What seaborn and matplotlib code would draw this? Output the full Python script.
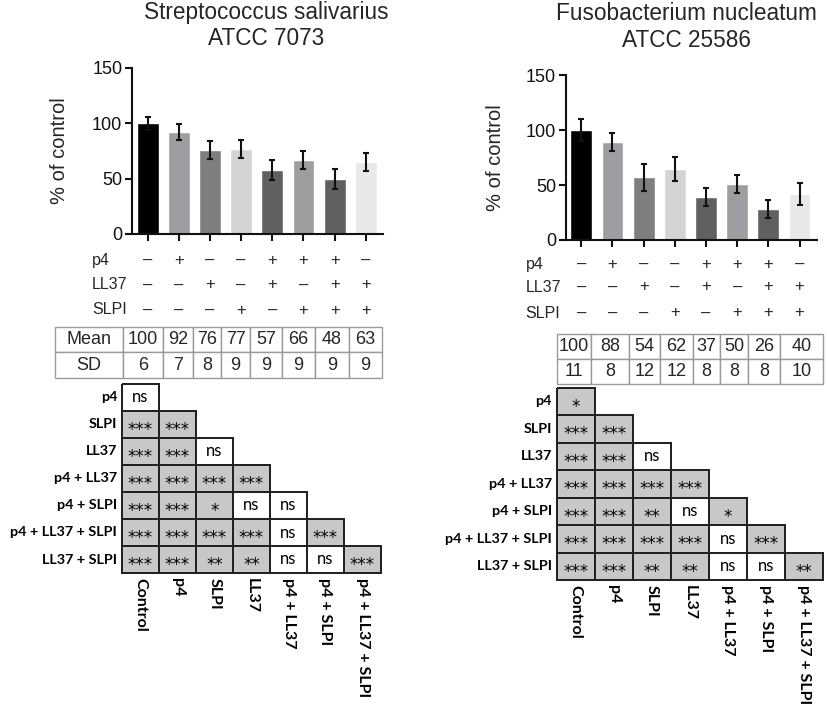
import numpy as np
import pandas as pd
import matplotlib
matplotlib.use("Agg")
import matplotlib.pyplot as plt
import matplotlib.transforms as mtransforms
from matplotlib.colors import ListedColormap
import seaborn as sns

# ---------------- data ----------------
groups = ['Control', 'p4', 'LL37', 'SLPI', 'p4 + LL37', 'p4 + SLPI',
          'p4 + LL37 + SLPI', 'LL37 + SLPI']
p4_signs = ['–', '+', '–', '–', '+', '+', '+', '–']
ll37_signs = ['–', '–', '+', '–', '+', '–', '+', '+']
slpi_signs = ['–', '–', '–', '+', '–', '+', '+', '+']
bar_colors = ['#000000', '#9e9ea2', '#7f7f7f', '#d4d4d4',
              '#606060', '#9e9ea2', '#606060', '#e8e8e8']

sal_title = ['Streptococcus salivarius', 'ATCC 7073']
sal_bar = [100, 92, 76, 77, 58, 67, 50, 65]
sal_err = [6, 7, 8, 8, 9, 8, 9, 8]
sal_mean = [100, 92, 76, 77, 57, 66, 48, 63]
sal_sd = [6, 7, 8, 9, 9, 9, 9, 9]

fus_title = ['Fusobacterium nucleatum', 'ATCC 25586']
fus_bar = [100, 89, 57, 65, 39, 51, 28, 42]
fus_err = [10, 8, 12, 11, 8, 8, 8, 10]
fus_mean = [100, 88, 54, 62, 37, 50, 26, 40]
fus_sd = [11, 8, 12, 12, 8, 8, 8, 10]

mat_cols = ['Control', 'p4', 'SLPI', 'LL37', 'p4 + LL37', 'p4 + SLPI',
            'p4 + LL37 + SLPI']
mat_rows = ['p4', 'SLPI', 'LL37', 'p4 + LL37', 'p4 + SLPI',
            'p4 + LL37 + SLPI', 'LL37 + SLPI']
sal_sig = [
    ['ns'],
    ['***', '***'],
    ['***', '***', 'ns'],
    ['***', '***', '***', '***'],
    ['***', '***', '*', 'ns', 'ns'],
    ['***', '***', '***', '***', 'ns', '***'],
    ['***', '***', '**', '**', 'ns', 'ns', '***'],
]
fus_sig = [
    ['*'],
    ['***', '***'],
    ['***', '***', 'ns'],
    ['***', '***', '***', '***'],
    ['***', '***', '**', 'ns', '*'],
    ['***', '***', '***', '***', 'ns', '***'],
    ['***', '***', '**', '**', 'ns', 'ns', '**'],
]

# ---------------- style ----------------
sns.set_theme(style="ticks")
plt.rcParams['font.family'] = ['Liberation Sans', 'DejaVu Sans']
LABEL_FONT = ['Lato', 'DejaVu Sans']

W, H = 827, 720
fig = plt.figure(figsize=(W / 100, H / 100), dpi=100)


def fx(px):
    return px / W


def fy(py):
    return 1 - py / H


def draw_panel(cfg):
    # ---- title ----
    for line, base in zip(cfg['title'], cfg['title_base']):
        fig.text(fx(cfg['title_x']), fy(base), line, ha='center',
                 va='baseline', fontsize=16.3)

    # ---- bar chart ----
    x0, x1, ytop, ybot = cfg['bar_box']
    ax = fig.add_axes([fx(x0), fy(ybot), (x1 - x0) / W, (ybot - ytop) / H])
    df = pd.DataFrame({'group': groups, 'value': cfg['bar']})
    sns.barplot(data=df, x='group', y='value', hue='group', order=groups,
                hue_order=groups, palette=bar_colors, saturation=1,
                width=0.7, errorbar=None, legend=False, ax=ax)
    ax.errorbar(np.arange(len(groups)), cfg['bar'], yerr=cfg['err'],
                fmt='none', ecolor='#111111', elinewidth=1.5,
                capsize=2.5, capthick=1.5)
    ax.set_ylim(0, 150)
    ax.set_yticks([0, 50, 100, 150])
    ax.set_xlim(-0.5, 7.55)
    ax.set_xticks(range(len(groups)))
    ax.set_xticklabels([])
    ax.set_xlabel('')
    ax.set_ylabel('% of control', fontsize=14.5)
    ax.yaxis.set_label_coords(cfg['ylab_x'], 0.5)
    ax.tick_params(axis='y', labelsize=13, length=5, width=1.5, pad=2,
                   colors='#111111')
    ax.tick_params(axis='x', length=5, width=1.5, colors='#111111')
    sns.despine(ax=ax)
    for s in ['left', 'bottom']:
        ax.spines[s].set_linewidth(1.5)
        ax.spines[s].set_color('#111111')

    # ---- +/- rows ----
    trans = mtransforms.blended_transform_factory(ax.transData,
                                                  fig.transFigure)
    for name, signs, yy in zip(['p4', 'LL37', 'SLPI'],
                               [p4_signs, ll37_signs, slpi_signs],
                               cfg['sign_y']):
        fig.text(fx(cfg['sign_label_x']), fy(yy), name, ha='left',
                 va='center', fontsize=11.5)
        for i, s in enumerate(signs):
            ax.text(i, fy(yy), s, transform=trans, ha='center',
                    va='center', fontsize=12)

    # ---- mean / SD table ----
    tx0, tx1, ty0, ty1 = cfg['tab_box']
    tax = fig.add_axes([fx(tx0), fy(ty1), (tx1 - tx0) / W, (ty1 - ty0) / H])
    tax.axis('off')
    mean_row = [str(v) for v in cfg['mean']]
    sd_row = [str(v) for v in cfg['sd']]
    if cfg['tab_labels']:
        mean_row = ['Mean'] + mean_row
        sd_row = ['SD'] + sd_row
    widths = np.array(cfg['tab_widths'], dtype=float)
    widths = widths / widths.sum()
    tab = tax.table(cellText=[mean_row, sd_row], colWidths=list(widths),
                    cellLoc='center', bbox=[0, 0, 1, 1])
    tab.auto_set_font_size(False)
    tab.set_fontsize(13)
    for _, cell in tab.get_celld().items():
        cell.set_edgecolor('#9a9a9a')
        cell.set_linewidth(1.0)
        cell.set_clip_on(False)

    # ---- significance matrix ----
    mx0, mx1, my0, my1 = cfg['mat_box']
    max_ = fig.add_axes([fx(mx0), fy(my1), (mx1 - mx0) / W, (my1 - my0) / H])
    n = len(mat_rows)
    annot = np.full((n, len(mat_cols)), '', dtype=object)
    vals = np.full((n, len(mat_cols)), np.nan)
    for i, row in enumerate(cfg['sig']):
        for j, s in enumerate(row):
            annot[i, j] = s
            vals[i, j] = 0.0 if s == 'ns' else 1.0
    mask = np.isnan(vals)
    mdf = pd.DataFrame(vals, index=mat_rows, columns=mat_cols)
    sns.heatmap(mdf, mask=mask, annot=annot, fmt='',
                cmap=ListedColormap(['#ffffff', '#c8c8c8']), vmin=0, vmax=1,
                cbar=False, linewidths=1.4, linecolor='#222222',
                annot_kws={'fontsize': 12, 'color': 'black',
                           'family': LABEL_FONT},
                ax=max_)
    # asterisks: larger glyphs, vertically centred like the reference
    for t in max_.texts:
        if '*' in t.get_text():
            t.set_fontfamily(['DejaVu Sans'])
            t.set_fontsize(12)
            xx, yy = t.get_position()
            t.set_position((xx, yy + 0.2))
    mesh = max_.collections[0]
    edge = ['none' if m else '#222222' for m in mask.ravel()]
    mesh.set_edgecolor(edge)
    mesh.set_clip_on(False)
    max_.set_yticklabels(mat_rows, rotation=0, fontweight='bold',
                         family=LABEL_FONT, fontsize=10.4)
    max_.set_xticklabels(mat_cols, rotation=-90, fontweight='bold',
                         family=LABEL_FONT, fontsize=11.5, ha='center',
                         va='top')
    max_.tick_params(axis='both', length=0, pad=3.5, colors='black')
    max_.set_xlabel('')
    max_.set_ylabel('')


panels = [
    dict(title=sal_title, title_x=266, title_base=[19, 45],
         bar=sal_bar, err=sal_err, mean=sal_mean, sd=sal_sd, sig=sal_sig,
         bar_box=(132, 383, 68, 234), ylab_x=-0.251,
         sign_y=[260, 285, 310], sign_label_x=92,
         tab_box=(55, 381.7, 326.7, 378.3), tab_labels=True,
         tab_widths=[67.7, 40.3, 29.7, 28.6, 28.7, 32, 33.3, 33.4, 33],
         mat_box=(122, 381, 384, 573)),
    dict(title=fus_title, title_x=686.5, title_base=[20, 47],
         bar=fus_bar, err=fus_err, mean=fus_mean, sd=fus_sd, sig=fus_sig,
         bar_box=(565.7, 816.7, 75.3, 240), ylab_x=-0.243,
         sign_y=[264, 287, 313], sign_label_x=525.7,
         tab_box=(556.7, 823.3, 334, 384.3), tab_labels=False,
         tab_widths=[34.3, 37.7, 31.6, 32.4, 27.3, 28.3, 31.7, 43.3],
         mat_box=(556.7, 822.7, 387.7, 580)),
]

for cfg in panels:
    draw_panel(cfg)

fig.savefig('out.png', dpi=100)
